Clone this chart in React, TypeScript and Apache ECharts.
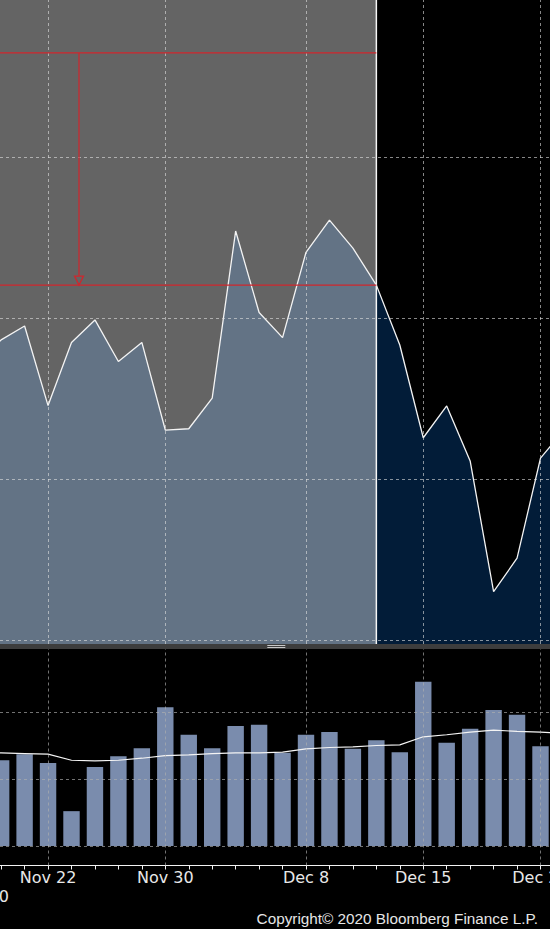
import React, { useEffect, useRef } from "react";
import * as echarts from "echarts";

// ---- data ----
const dates = [
  "Nov 18", "Nov 19", "Nov 20", "Nov 23", "Nov 24", "Nov 25", "Nov 26", "Nov 27", "Nov 30",
  "Dec 1", "Dec 2", "Dec 3", "Dec 4", "Dec 7", "Dec 8", "Dec 9", "Dec 10",
  "Dec 11", "Dec 14", "Dec 15", "Dec 16", "Dec 17", "Dec 18", "Dec 21", "Dec 22", "Dec 23",
];
const tickIndex = [3, 8, 14, 19, 24];
const tickText = ["Nov 22", "Nov 30", "Dec 8", "Dec 15", "Dec 22"];
const yearText = "2020";
const copyrightText = "Copyright\u00a9 2020 Bloomberg Finance L.P.";

const prices = [
  108.6, 109.32, 109.75, 107.28, 109.24, 109.94, 108.65, 109.24, 106.52,
  106.56, 107.51, 112.7, 110.17, 109.39, 112.04, 113.04, 112.17,
  111.02, 109.16, 106.28, 107.27, 105.56, 101.5, 102.54, 105.65, 106.52,
];
const volumes = [
  13.0, 12.8, 13.7, 12.4, 5.2, 11.8, 13.4, 14.6, 20.7,
  16.6, 14.6, 17.9, 18.1, 13.9, 16.6, 17.0, 14.5,
  15.8, 14.0, 24.5, 15.4, 17.5, 20.3, 19.6, 14.9, 15.0,
];
const volumeAvg = [
  13.9, 13.9, 13.8, 13.7, 12.8, 12.7, 12.8, 13.1, 13.5,
  13.6, 13.8, 13.9, 13.9, 14.0, 14.5, 14.7, 14.8,
  15.0, 15.1, 16.3, 16.6, 17.0, 17.3, 17.1, 17.0, 16.8,
];
const splitIndex = 17;
const annotationLevels = [118.23, 111.02];
const arrowIndex = 4.32;
const arrowTipPrice = 111.16;
const priceGridLevels = [100, 105, 110, 115];
const volumeGridLevels = [0, 10, 20];

// ---- view window / styles ----
const X_MIN = 0.951;
const X_MAX = 24.405;
const P_MIN = 99.875;
const P_MAX = 119.875;
const RED = "#d0262d";
const GRAY_BG = "#646464";
const SLATE = "#637385";
const NAVY = "#021c38";
const BAR = "#7a8cad";
const GRID_TOP = "rgba(225,225,225,0.6)";
const GRID_BOT = "rgba(175,175,175,0.65)";

export default function App() {
  const ref = useRef<HTMLDivElement>(null);

  useEffect(() => {
    document.body.style.margin = "0";
    const el = ref.current!;
    const chart = echarts.init(el, undefined, { renderer: "svg" });

    const pts = (arr: number[], from = 0, to = arr.length - 1) =>
      arr.slice(from, to + 1).map((v, i) => [i + from, v]);

    const dash = (color: string) => ({ color, type: [3, 3] as any, width: 1, opacity: 1 });

    const labelMap: Record<number, string> = {};
    tickIndex.forEach((t, i) => (labelMap[t] = tickText[i]));

    const segment = (name: string, data: number[][], color: string, width: number, z: number) => ({
      name, type: "line", xAxisIndex: 0, yAxisIndex: 0, z, silent: true,
      data, showSymbol: false, symbol: "none",
      lineStyle: { color, width, type: "solid" },
    });

    const option: any = {
      animation: false,
      backgroundColor: "#000",
      grid: [
        { left: 0, right: 0, top: 0, height: 644, containLabel: false, outerBoundsMode: "none" },
        { left: 0, right: 0, top: 649, height: 216.5, containLabel: false, outerBoundsMode: "none" },
      ],
      xAxis: [
        {
          type: "value", gridIndex: 0, min: X_MIN, max: X_MAX,
          axisLine: { show: false }, axisTick: { show: false },
          axisLabel: { show: false }, splitLine: { show: false },
        },
        {
          type: "value", gridIndex: 1, min: X_MIN, max: X_MAX,
          axisLine: { show: true, onZero: false, lineStyle: { color: "#f2f2f2", width: 1 } },
          axisTick: {
            show: true, length: 4,
            customValues: dates.map((_, i) => i),
            lineStyle: { color: "#f2f2f2", width: 1 },
          },
          splitLine: { show: false },
          axisLabel: {
            show: true,
            customValues: tickIndex,
            margin: 4,
            color: "#e8e8e8",
            fontFamily: "DejaVu Sans",
            fontSize: 16,
            showMinLabel: true,
            showMaxLabel: true,
            formatter: (v: number) => labelMap[Math.round(v)] ?? "",
          },
        },
      ],
      yAxis: [
        {
          type: "value", gridIndex: 0, min: P_MIN, max: P_MAX,
          axisLine: { show: false }, axisTick: { show: false },
          axisLabel: { show: false }, splitLine: { show: false },
        },
        {
          type: "value", gridIndex: 1, min: -2.91, max: 29.4,
          axisLine: { show: false }, axisTick: { show: false },
          axisLabel: { show: false }, splitLine: { show: false },
        },
      ],
      series: [
        {
          name: "history", type: "line", xAxisIndex: 0, yAxisIndex: 0, z: 3,
          data: pts(prices, 0, splitIndex), showSymbol: false, symbol: "none",
          lineStyle: { color: "#f4f4f4", width: 1.3 },
          areaStyle: { color: SLATE, opacity: 1, origin: "start" },
        },
        {
          name: "recent", type: "line", xAxisIndex: 0, yAxisIndex: 0, z: 3,
          data: pts(prices, splitIndex), showSymbol: false, symbol: "none",
          lineStyle: { color: "#f4f4f4", width: 1.3 },
          areaStyle: { color: NAVY, opacity: 1, origin: "start" },
        },
        {
          name: "topGrid", type: "line", xAxisIndex: 0, yAxisIndex: 0, z: 4,
          data: pts(prices), showSymbol: false, symbol: "none",
          lineStyle: { width: 0, color: "#e0e0e0" }, silent: true,
          markLine: {
            silent: true, symbol: "none", label: { show: false },
            lineStyle: { color: "#e0e0e0", type: [3, 3], width: 1, opacity: 1 },
            data: [
              ...priceGridLevels.map((y) => ({ yAxis: y, lineStyle: dash(GRID_TOP) })),
              ...tickIndex.map((x) => ({ xAxis: x, lineStyle: dash(GRID_TOP) })),
            ],
          },
        },
        segment("divider", [[splitIndex, P_MIN], [splitIndex, P_MAX]], "#f6f6f6", 1.5, 5),
        ...annotationLevels.map((lvl, i) =>
          segment("level" + i, [[X_MIN, lvl], [splitIndex, lvl]], RED, 1.2, 5)
        ),
        segment("arrowShaft", [[arrowIndex, annotationLevels[0]], [arrowIndex, arrowTipPrice]], RED, 1.2, 5),
        {
          name: "arrow", type: "scatter", xAxisIndex: 0, yAxisIndex: 0, z: 6,
          data: [[arrowIndex, arrowTipPrice]], symbol: "triangle", symbolRotate: 180,
          symbolSize: [9, 9], silent: true,
          itemStyle: { color: GRAY_BG, borderColor: RED, borderWidth: 1.2, opacity: 1 },
        },
        {
          name: "bottomGrid", type: "line", xAxisIndex: 1, yAxisIndex: 1, z: 1,
          data: pts(volumeAvg), showSymbol: false, symbol: "none",
          lineStyle: { width: 0, color: "#aaaaaa" }, silent: true,
          markLine: {
            silent: true, symbol: "none", label: { show: false },
            lineStyle: { color: "#aaaaaa", type: [3, 3], width: 1, opacity: 1 },
            data: [
              ...volumeGridLevels.map((y) => ({ yAxis: y, lineStyle: dash(GRID_BOT) })),
              ...tickIndex.map((x) => ({ xAxis: x, lineStyle: dash(GRID_BOT) })),
            ],
          },
        },
        {
          name: "volume", type: "custom", xAxisIndex: 1, yAxisIndex: 1, z: 3,
          data: pts(volumes), encode: { x: 0, y: 1 },
          renderItem: (params: any, api: any) => {
            const x = api.value(0);
            const v = api.value(1);
            const top = api.coord([x, v]);
            const base = api.coord([x, 0]);
            const w = api.size([1, 0])[0] * 0.7;
            return {
              type: "rect",
              shape: { x: top[0] - w / 2, y: top[1], width: w, height: base[1] - top[1] },
              style: { fill: BAR },
            };
          },
        },
        {
          name: "volumeAvg", type: "line", xAxisIndex: 1, yAxisIndex: 1, z: 4,
          data: pts(volumeAvg), showSymbol: false, symbol: "none",
          lineStyle: { color: "#f4f4f4", width: 1.2 },
        },
      ],
    };

    chart.setOption(option);

    const xSplit = chart.convertToPixel({ xAxisIndex: 0 }, splitIndex) as number;
    const yTop0 = chart.convertToPixel({ yAxisIndex: 0 }, P_MAX) as number;
    const yBot0 = chart.convertToPixel({ yAxisIndex: 0 }, P_MIN) as number;
    const xHandle = chart.convertToPixel({ xAxisIndex: 0 }, 12.35) as number;

    chart.setOption({
      graphic: [
        {
          type: "rect", z: -1, silent: true,
          shape: { x: 0, y: yTop0, width: xSplit, height: yBot0 - yTop0 },
          style: { fill: GRAY_BG },
        },
        {
          type: "rect", z: 10, silent: true,
          shape: { x: 0, y: yBot0, width: 550, height: 5 },
          style: { fill: "#3d3d3d" },
        },
        {
          type: "line", z: 11, silent: true,
          shape: { x1: xHandle, y1: yBot0 + 1.5, x2: xHandle + 18, y2: yBot0 + 1.5 },
          style: { stroke: "#c8c8c8", lineWidth: 1 },
        },
        {
          type: "line", z: 11, silent: true,
          shape: { x1: xHandle, y1: yBot0 + 3.5, x2: xHandle + 18, y2: yBot0 + 3.5 },
          style: { stroke: "#c8c8c8", lineWidth: 1 },
        },
        {
          type: "text", z: 10, silent: true, x: 9, y: 896,
          style: {
            text: yearText, fill: "#e8e8e8", font: '16px "DejaVu Sans"',
            textAlign: "right", align: "right", textVerticalAlign: "middle", verticalAlign: "middle",
          },
        },
        {
          type: "text", z: 10, silent: true, x: 538, y: 918,
          style: {
            text: copyrightText, fill: "#e6e6e6", font: '15.3px "Liberation Sans"',
            textAlign: "right", align: "right", textVerticalAlign: "middle", verticalAlign: "middle",
          },
        },
      ],
    });

    return () => chart.dispose();
  }, []);

  return <div ref={ref} style={{ width: 550, height: 929 }} />;
}
